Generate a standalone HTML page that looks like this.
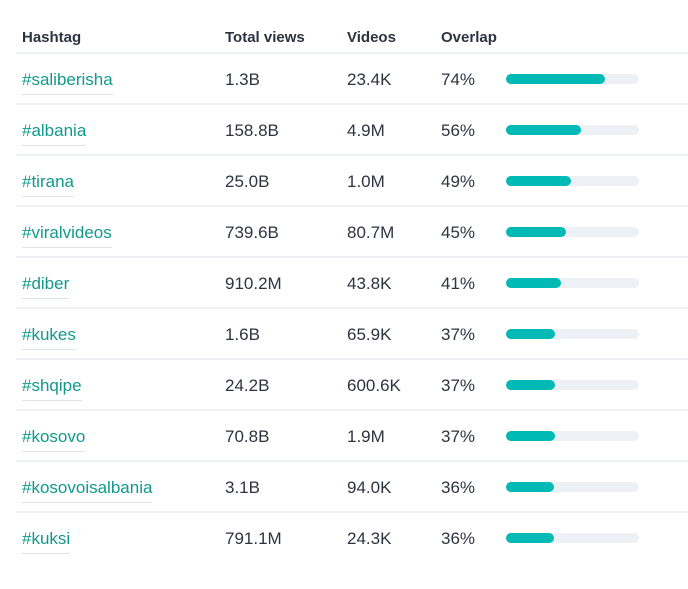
<!DOCTYPE html>
<html><head><style>
body{margin:0;width:688px;height:560px;background:#fff;font-family:"Liberation Sans",sans-serif;position:relative;overflow:hidden}
.h{position:absolute;top:29px;font-size:15px;font-weight:bold;color:#2d3340}
.line{position:absolute;left:16px;width:672px;height:2px;background:#edf0f4}
.row{position:absolute;left:0;width:688px;height:51px}
.t{position:absolute;top:-10px;font-size:17px;color:#2d3340;line-height:22px}
.tag{color:#12998c;border-bottom:1px solid #dde3ea;padding-bottom:3px;left:22px}
.bar{position:absolute;left:506px;top:-5px;width:133px;height:10px;border-radius:5px;background:#edf1f5}
.bar i{display:block;height:10px;border-radius:5px;background:#01bab5}
</style></head><body>
<div class="h" style="left:22px">Hashtag</div>
<div class="h" style="left:225px">Total views</div>
<div class="h" style="left:347px">Videos</div>
<div class="h" style="left:441px">Overlap</div>
<div class="line" style="top:52px"></div>
<div class="line" style="top:103px"></div>
<div class="line" style="top:154px"></div>
<div class="line" style="top:205px"></div>
<div class="line" style="top:256px"></div>
<div class="line" style="top:307px"></div>
<div class="line" style="top:358px"></div>
<div class="line" style="top:409px"></div>
<div class="line" style="top:460px"></div>
<div class="line" style="top:511px"></div>
<div class="row" style="top:79px"><span class="t tag">#saliberisha</span><span class="t" style="left:225px">1.3B</span><span class="t" style="left:347px">23.4K</span><span class="t" style="left:441px">74%</span><div class="bar"><i style="width:99px"></i></div></div>
<div class="row" style="top:130px"><span class="t tag">#albania</span><span class="t" style="left:225px">158.8B</span><span class="t" style="left:347px">4.9M</span><span class="t" style="left:441px">56%</span><div class="bar"><i style="width:75px"></i></div></div>
<div class="row" style="top:181px"><span class="t tag">#tirana</span><span class="t" style="left:225px">25.0B</span><span class="t" style="left:347px">1.0M</span><span class="t" style="left:441px">49%</span><div class="bar"><i style="width:65px"></i></div></div>
<div class="row" style="top:232px"><span class="t tag">#viralvideos</span><span class="t" style="left:225px">739.6B</span><span class="t" style="left:347px">80.7M</span><span class="t" style="left:441px">45%</span><div class="bar"><i style="width:60px"></i></div></div>
<div class="row" style="top:283px"><span class="t tag">#diber</span><span class="t" style="left:225px">910.2M</span><span class="t" style="left:347px">43.8K</span><span class="t" style="left:441px">41%</span><div class="bar"><i style="width:55px"></i></div></div>
<div class="row" style="top:334px"><span class="t tag">#kukes</span><span class="t" style="left:225px">1.6B</span><span class="t" style="left:347px">65.9K</span><span class="t" style="left:441px">37%</span><div class="bar"><i style="width:49px"></i></div></div>
<div class="row" style="top:385px"><span class="t tag">#shqipe</span><span class="t" style="left:225px">24.2B</span><span class="t" style="left:347px">600.6K</span><span class="t" style="left:441px">37%</span><div class="bar"><i style="width:49px"></i></div></div>
<div class="row" style="top:436px"><span class="t tag">#kosovo</span><span class="t" style="left:225px">70.8B</span><span class="t" style="left:347px">1.9M</span><span class="t" style="left:441px">37%</span><div class="bar"><i style="width:49px"></i></div></div>
<div class="row" style="top:487px"><span class="t tag">#kosovoisalbania</span><span class="t" style="left:225px">3.1B</span><span class="t" style="left:347px">94.0K</span><span class="t" style="left:441px">36%</span><div class="bar"><i style="width:48px"></i></div></div>
<div class="row" style="top:538px"><span class="t tag">#kuksi</span><span class="t" style="left:225px">791.1M</span><span class="t" style="left:347px">24.3K</span><span class="t" style="left:441px">36%</span><div class="bar"><i style="width:48px"></i></div></div>
</body></html>
